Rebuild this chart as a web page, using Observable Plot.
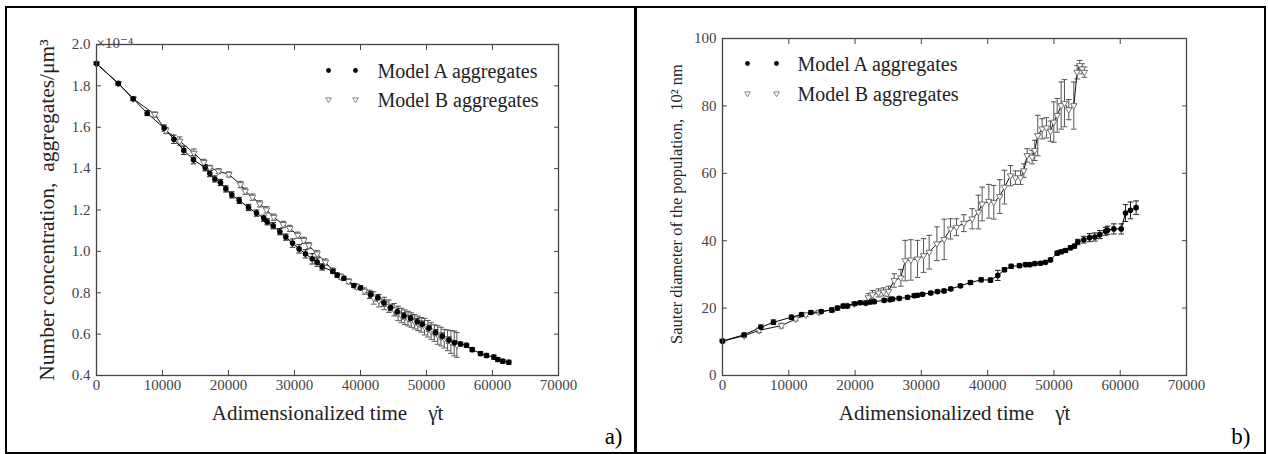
<!DOCTYPE html>
<html>
<head>
<meta charset="utf-8">
<script src="https://cdn.jsdelivr.net/npm/d3@7"></script>
<script src="https://cdn.jsdelivr.net/npm/@observablehq/plot@0.6"></script>
<style>
  html, body { margin: 0; padding: 0; background: #fff; }
  body { width: 1268px; height: 454px; position: relative; overflow: hidden; }
  .panel { position: absolute; top: 8px; }
  .panel svg, .panel svg text { font-family: "Liberation Serif", "DejaVu Serif", "Noto Serif", serif !important; }
  #box { position: absolute; left: 5px; top: 6px; width: 1261px; height: 448px; box-sizing: border-box; border: 2px solid #000; pointer-events: none; }
  #divider { position: absolute; left: 634px; top: 6px; width: 2.5px; height: 448px; background: #000; }
</style>
</head>
<body>
<div id="pa" class="panel" style="left:7px"></div>
<div id="pb" class="panel" style="left:637px"></div>
<div id="box"></div>
<div id="divider"></div>
<script>
// ---------- shared ----------
const xTicks = [0, 10000, 20000, 30000, 40000, 50000, 60000, 70000];
const legendLabels = ["Model A aggregates", "Model B aggregates"];

// ---------- panel a: number concentration (x 1e-4 aggregates/um^3) ----------
const aTicksY = [0.4, 0.6, 0.8, 1.0, 1.2, 1.4, 1.6, 1.8, 2.0];
const aTimeA = [0, 3300, 5560, 7680, 10250, 11720, 13230, 14700, 16460, 17170, 17930, 18790, 19600, 20500, 21620, 23030, 24240, 25350, 25860, 26770, 27780, 28690, 29700, 30700, 31670, 32680, 33430, 34190, 35810, 36470, 37480, 39000, 40000, 41530, 42640, 43550, 44560, 45570, 46580, 47590, 48600, 49360, 50370, 51380, 52390, 53400, 54250, 55150, 56060, 56920, 58180, 59090, 60200, 60800, 61560, 62470];
const aConcA = [1.908, 1.812, 1.738, 1.668, 1.596, 1.542, 1.488, 1.443, 1.404, 1.376, 1.350, 1.333, 1.302, 1.273, 1.246, 1.212, 1.185, 1.160, 1.143, 1.124, 1.095, 1.069, 1.040, 1.012, 0.988, 0.964, 0.948, 0.925, 0.904, 0.885, 0.870, 0.835, 0.824, 0.790, 0.775, 0.750, 0.728, 0.708, 0.688, 0.676, 0.660, 0.648, 0.628, 0.607, 0.590, 0.571, 0.558, 0.552, 0.546, 0.525, 0.506, 0.497, 0.489, 0.477, 0.469, 0.464];
const aErrA = [0.005, 0.008, 0.008, 0.012, 0.015, 0.02, 0.02, 0.02, 0.015, 0.015, 0.015, 0.015, 0.015, 0.015, 0.015, 0.015, 0.015, 0.015, 0.015, 0.015, 0.015, 0.015, 0.02, 0.02, 0.02, 0.025, 0.02, 0.015, 0.01, 0.01, 0.01, 0.01, 0.01, 0.015, 0.015, 0.015, 0.015, 0.015, 0.015, 0.015, 0.015, 0.015, 0.015, 0.015, 0.015, 0.015, 0.01, 0.01, 0.01, 0.01, 0.01, 0.01, 0.01, 0.01, 0.01, 0.01];
const aTimeB = [0, 3300, 5560, 8840, 10500, 12620, 14750, 16260, 17170, 18480, 20050, 21820, 22530, 23640, 24740, 25760, 26860, 28290, 29290, 30500, 31410, 32170, 33430, 34700, 35810, 37000, 38200, 39400, 40600, 41400, 42000, 42800, 43600, 44300, 45100, 45700, 46200, 46700, 47200, 47700, 48200, 48700, 49200, 49700, 50200, 50700, 51200, 51700, 52200, 52700, 53200, 53700, 54200, 54600];
const aConcB = [1.908, 1.812, 1.738, 1.662, 1.584, 1.533, 1.475, 1.430, 1.404, 1.388, 1.372, 1.323, 1.291, 1.262, 1.230, 1.201, 1.165, 1.130, 1.111, 1.078, 1.053, 1.028, 0.988, 0.948, 0.907, 0.878, 0.855, 0.830, 0.808, 0.792, 0.775, 0.762, 0.748, 0.735, 0.718, 0.700, 0.690, 0.682, 0.675, 0.668, 0.660, 0.652, 0.645, 0.636, 0.626, 0.615, 0.605, 0.596, 0.588, 0.578, 0.570, 0.562, 0.555, 0.548];
const aErrB = [0.005, 0.008, 0.008, 0.012, 0.015, 0.02, 0.02, 0.015, 0.012, 0.012, 0.012, 0.015, 0.015, 0.015, 0.015, 0.015, 0.015, 0.015, 0.015, 0.015, 0.015, 0.015, 0.015, 0.015, 0.012, 0.012, 0.012, 0.012, 0.015, 0.02, 0.03, 0.03, 0.03, 0.03, 0.03, 0.035, 0.035, 0.035, 0.035, 0.035, 0.035, 0.035, 0.035, 0.04, 0.04, 0.04, 0.04, 0.045, 0.045, 0.045, 0.05, 0.055, 0.06, 0.06];

// ---------- panel b: Sauter diameter (10^2 nm) ----------
const bTicksY = [0, 20, 40, 60, 80, 100];
const bTimeA = [0, 3270, 5780, 7690, 10410, 11920, 13330, 14880, 16490, 17350, 18210, 18860, 19960, 20770, 21620, 22300, 22880, 24390, 25300, 25650, 26660, 27920, 28920, 29400, 30170, 31420, 32430, 33430, 34440, 35900, 37410, 39020, 40430, 41530, 42540, 43550, 44800, 45710, 46360, 47120, 47970, 48730, 49480, 50490, 51090, 51740, 52500, 53100, 53600, 54510, 55370, 56170, 56920, 57780, 58100, 59040, 60150, 60800, 61550, 62400];
const bDiamA = [10.2, 12.1, 14.3, 15.8, 17.3, 18.1, 18.7, 19.0, 19.4, 20.0, 20.6, 20.6, 21.3, 21.6, 21.5, 21.8, 21.9, 22.3, 22.5, 22.7, 22.9, 23.2, 23.7, 23.8, 24.1, 24.5, 24.9, 25.1, 25.7, 26.6, 27.6, 28.4, 28.3, 29.7, 31.4, 32.4, 32.6, 32.9, 32.9, 33.2, 33.3, 33.6, 34.3, 36.3, 36.7, 37.1, 37.9, 38.4, 39.6, 40.3, 40.9, 41.1, 41.8, 42.8, 43.1, 43.5, 43.5, 48.2, 49.0, 49.8];
const bErrA = [0.3, 0.5, 0.7, 0.7, 0.6, 0.5, 0.5, 0.5, 0.6, 0.6, 0.6, 0.5, 0.5, 0.5, 0.5, 0.5, 0.5, 0.5, 0.5, 0.5, 0.5, 0.5, 0.5, 0.5, 0.5, 0.5, 0.5, 0.5, 0.5, 0.5, 0.6, 0.6, 0.6, 1.5, 0.6, 0.6, 0.5, 0.5, 0.5, 0.5, 0.5, 0.5, 0.5, 0.6, 0.6, 0.6, 0.6, 0.6, 0.8, 1.0, 1.2, 1.2, 1.2, 1.2, 1.2, 1.5, 1.5, 2.5, 2.5, 2.0];
const bTimeB = [0, 3270, 5530, 8900, 11060, 12570, 14580, 16590, 18610, 19860, 21620, 22000, 22630, 23540, 24290, 25050, 25900, 26900, 27560, 28420, 29420, 30330, 31180, 32340, 33440, 34400, 35300, 36410, 37660, 38600, 39170, 40180, 40930, 41830, 42540, 43450, 44200, 44960, 45460, 45960, 46710, 47110, 47560, 48220, 48870, 49480, 49980, 50490, 51090, 51590, 52240, 53000, 53500, 53900, 54250, 54600];
const bDiamB = [10.2, 11.8, 13.4, 14.8, 16.8, 18.0, 18.8, 19.6, 20.8, 21.3, 21.6, 23.1, 24.0, 24.5, 24.8, 25.0, 28.2, 29.0, 34.1, 34.3, 34.6, 35.6, 36.6, 39.1, 40.4, 43.5, 44.0, 45.2, 46.5, 48.5, 50.9, 51.7, 51.4, 53.1, 55.9, 59.3, 58.7, 58.7, 60.8, 65.3, 64.8, 66.8, 71.2, 73.2, 73.5, 72.5, 75.2, 77.2, 80.1, 80.8, 78.9, 80.1, 90.0, 92.0, 91.0, 90.0];
const bErrB = [0.3, 0.5, 0.7, 0.7, 0.6, 0.5, 0.5, 0.6, 0.6, 0.5, 0.6, 1.2, 1.2, 1.2, 1.2, 1.5, 2.0, 2.5, 6, 6, 5.5, 5, 5, 5, 6, 3, 2.5, 2.5, 3, 5, 5, 5, 5, 5, 5, 3, 2, 2, 2, 2, 2, 3, 6, 3, 3, 3, 6, 5, 7, 7, 3, 7, 2, 1.5, 1.5, 1.5];

// ---------- drawing ----------
const FONT = "'Liberation Serif', 'DejaVu Serif', 'Noto Serif', serif";
const capSymbol = { draw(ctx, size) { const w = Math.sqrt(size / Math.PI); ctx.moveTo(-w, 0); ctx.lineTo(w, 0); } };

function rows(ts, vs, es) {
  return ts.map((t, i) => ({ t, v: vs[i], lo: vs[i] - es[i], hi: vs[i] + es[i] }));
}

function panel(cfg) {
  const A = rows(cfg.tA, cfg.vA, cfg.eA);
  const B = rows(cfg.tB, cfg.vB, cfg.eB);
  const errMarks = (D, color) => [
    Plot.ruleX(D, { x: "t", y1: "lo", y2: "hi", stroke: color, strokeWidth: 1 }),
    Plot.dot(D, { x: "t", y: "lo", symbol: capSymbol, r: 2.8, stroke: color, fill: "none", strokeWidth: 1 }),
    Plot.dot(D, { x: "t", y: "hi", symbol: capSymbol, r: 2.8, stroke: color, fill: "none", strokeWidth: 1 })
  ];
  const T = { fontFamily: FONT };
  return Plot.plot({
    width: cfg.width, height: cfg.height,
    marginLeft: cfg.ml, marginRight: cfg.mr, marginTop: cfg.mt, marginBottom: cfg.mb,
    style: { fontFamily: FONT, fontSize: "15px", color: "#333", background: "transparent", overflow: "visible" },
    x: { domain: [0, 70000] },
    y: { domain: cfg.yDomain },
    marks: [
      ...errMarks(B, "#555"),
      ...errMarks(A, "#222"),
      Plot.line(B, { x: "t", y: "v", stroke: "#111", strokeWidth: 1 }),
      Plot.line(A, { x: "t", y: "v", stroke: "#000", strokeWidth: 1 }),
      Plot.dot(B, { x: "t", y: "v", symbol: "triangle", rotate: 180, r: 2.4, stroke: "#666", fill: "#fff", strokeWidth: 0.9 }),
      Plot.dot(A, { x: "t", y: "v", r: 2.8, fill: "#000" }),
      Plot.frame({ stroke: "#444", strokeWidth: 1.3 }),
      Plot.axisX({ ...T, anchor: "bottom", ticks: xTicks, tickSize: -5, tickPadding: 9, tickFormat: d => String(d), label: null, fontSize: 15, stroke: "#444", fill: "#444" }),
      Plot.axisX({ anchor: "top", ticks: xTicks, tickSize: -5, tickFormat: () => "", label: null, stroke: "#444" }),
      Plot.axisY({ ...T, anchor: "left", ticks: cfg.yTicks, tickSize: -5, tickPadding: 11, tickFormat: cfg.yFormat, label: null, fontSize: 15, stroke: "#444", fill: "#444" }),
      Plot.axisY({ anchor: "right", ticks: cfg.yTicks, tickSize: -5, tickFormat: () => "", label: null, stroke: "#444" }),
      Plot.text([cfg.xLabel], { ...T, text: d => d, frameAnchor: "bottom", dy: 38, textAnchor: "middle", lineAnchor: "middle", fontSize: 21, fill: "#222" }),
      Plot.text([cfg.yLabel], { ...T, text: d => d, frameAnchor: "left", dx: cfg.yLabelDx, dy: cfg.yLabelDy, rotate: -90, textAnchor: "middle", lineAnchor: "middle", fontSize: cfg.yLabelSize, fill: "#222" }),
      // legend
      Plot.dot([0], { frameAnchor: "top-left", dx: cfg.lg.d1, dy: cfg.lg.y1, r: 2.4, fill: "#000" }),
      Plot.dot([0], { frameAnchor: "top-left", dx: cfg.lg.d2, dy: cfg.lg.y1, r: 2.4, fill: "#000" }),
      Plot.dot([0], { frameAnchor: "top-left", dx: cfg.lg.d1, dy: cfg.lg.y2, symbol: "triangle", rotate: 180, r: 2.1, stroke: "#777", fill: "#fff", strokeWidth: 0.9 }),
      Plot.dot([0], { frameAnchor: "top-left", dx: cfg.lg.d2, dy: cfg.lg.y2, symbol: "triangle", rotate: 180, r: 2.1, stroke: "#777", fill: "#fff", strokeWidth: 0.9 }),
      Plot.text([legendLabels[0]], { ...T, text: d => d, frameAnchor: "top-left", dx: cfg.lg.tx, dy: cfg.lg.y1 + 1, textAnchor: "start", lineAnchor: "middle", fontSize: 20, fill: "#222" }),
      Plot.text([legendLabels[1]], { ...T, text: d => d, frameAnchor: "top-left", dx: cfg.lg.tx, dy: cfg.lg.y2 + 1, textAnchor: "start", lineAnchor: "middle", fontSize: 20, fill: "#222" }),
      // panel tag
      Plot.text([cfg.tag], { ...T, text: d => d, frameAnchor: "bottom-right", dx: 64, dy: 61, textAnchor: "end", lineAnchor: "middle", fontSize: 23, fill: "#000" }),
      ...(cfg.offsetText ? [Plot.text([cfg.offsetText], { ...T, text: d => d, frameAnchor: "top-left", dx: 0, dy: 3, textAnchor: "start", lineAnchor: "bottom", fontSize: 15, fill: "#444" })] : [])
    ]
  });
}

const xLabel = "Adimensionalized time\u00a0\u00a0\u00a0 \u03b3\u0307t";

document.getElementById("pa").append(panel({
  width: 627, height: 444, ml: 89, mr: 76, mt: 36, mb: 77,
  tA: aTimeA, vA: aConcA, eA: aErrA, tB: aTimeB, vB: aConcB, eB: aErrB,
  yDomain: [0.4, 2.0], yTicks: aTicksY, yFormat: d => d.toFixed(1),
  xLabel, yLabel: "Number concentration,\u00a0 aggregates/\u03bcm\u00b3", yLabelDx: -49, yLabelDy: 0, yLabelSize: 21.5,
  lg: { d1: 232, d2: 259, tx: 281, y1: 26, y2: 55 },
  tag: "a)", offsetText: "\u00d710\u207b\u2074"
}));

document.getElementById("pb").append(panel({
  width: 627, height: 444, ml: 85, mr: 78, mt: 30, mb: 77,
  tA: bTimeA, vA: bDiamA, eA: bErrA, tB: bTimeB, vB: bDiamB, eB: bErrB,
  yDomain: [0, 100], yTicks: bTicksY, yFormat: d => String(d),
  xLabel, yLabel: "Sauter diameter of the population,\u00a0 10\u00b2 nm", yLabelDx: -46, yLabelDy: -3, yLabelSize: 16.5,
  lg: { d1: 25, d2: 54, tx: 75, y1: 25, y2: 55 },
  tag: "b)", offsetText: null
}));
</script>
</body>
</html>
